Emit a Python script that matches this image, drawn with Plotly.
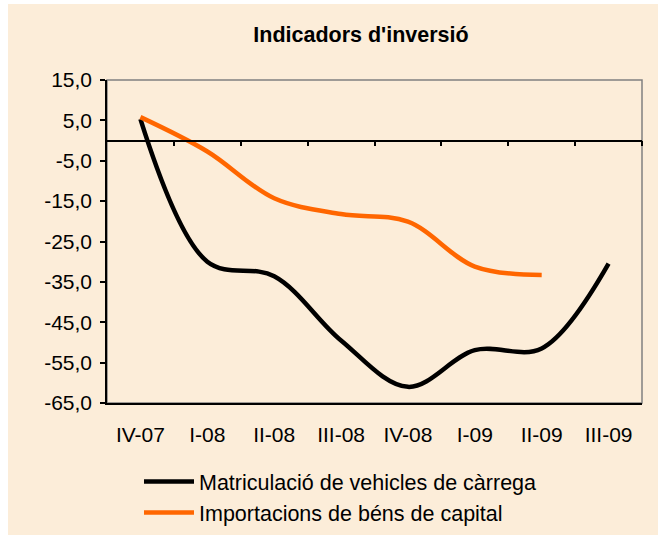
import plotly.graph_objects as go

categories = ["IV-07", "I-08", "II-08", "III-08", "IV-08", "I-09", "II-09", "III-09"]
matriculacio = [5.3, -30.0, -33.6, -49.5, -61.0, -51.9, -51.5, -30.5]
importacions = [5.8, -2.7, -14.3, -18.2, -20.1, -31.2, -33.3, None]
name_m = "Matriculació de vehicles de càrrega"
name_i = "Importacions de béns de capital"
title = "Indicadors d'inversió"
y_ticks = [15, 5, -5, -15, -25, -35, -45, -55, -65]
y_ticktext = [f"{v:.1f}".replace(".", ",") for v in y_ticks]

BG = "#FCEDD9"
FONT = "Liberation Sans, Arial, sans-serif"
xs = list(range(len(categories)))

fig = go.Figure()
fig.add_trace(go.Scatter(x=xs, y=matriculacio, name=name_m, mode="lines",
                         line=dict(color="#000000", width=4.5, shape="spline", smoothing=1),
                         legendgroup="a"))
fig.add_trace(go.Scatter(x=xs, y=importacions, name=name_i, mode="lines",
                         line=dict(color="#FF6600", width=4.5, shape="spline", smoothing=1),
                         legendgroup="b"))
# invisible trace for the zero-line axis
fig.add_trace(go.Scatter(x=[xs[0]], y=[0], xaxis="x2", yaxis="y", mode="markers",
                         marker=dict(opacity=0), showlegend=False, hoverinfo="skip"))

W, H = 658, 535
L, R, T, B = 107, 16, 80, 132
pw = W - L - R
ph = H - T - B

shapes = [
    dict(type="rect", xref="paper", yref="paper", layer="below",
         x0=(8 - L) / pw, x1=(W - L) / pw + 0.05, y0=-(B + 30) / ph, y1=1 + (T - 4) / ph,
         fillcolor=BG, line=dict(width=0)),
    dict(type="rect", xref="paper", yref="paper", layer="below",
         x0=0, x1=1, y0=0, y1=1, line=dict(color="#808080", width=1.5), fillcolor="rgba(0,0,0,0)"),
]

fig.update_layout(
    width=W, height=H,
    margin=dict(l=L, r=R, t=T, b=B, autoexpand=False),
    paper_bgcolor="white",
    plot_bgcolor="rgba(0,0,0,0)",
    font=dict(family=FONT, color="#000000", size=21),
    title=dict(text="<b>" + title + "</b>", x=361 / W, xanchor="center",
               y=1 - 34 / H, yanchor="middle", font=dict(size=21.5, family=FONT)),
    showlegend=True,
    legend=dict(x=(139 - L) / pw, xanchor="left", y=-(461 - T - ph) / ph, yanchor="top",
                bgcolor="rgba(0,0,0,0)", font=dict(size=21.5, family=FONT),
                itemwidth=50, traceorder="grouped", tracegroupgap=0),
    shapes=shapes,
    xaxis=dict(range=[-0.5, len(categories) - 0.5], tickvals=xs, ticktext=categories,
               showgrid=False, zeroline=False, showline=True, linecolor="#000000", linewidth=1.5,
               ticks="", ticklabelstandoff=12, tickfont=dict(size=21)),
    xaxis2=dict(range=[-0.5, len(categories) - 0.5], overlaying="x", anchor="free",
                position=(0 - (-65)) / 80, side="bottom",
                tickvals=[k + 0.5 for k in xs], showticklabels=False,
                ticks="outside", ticklen=5, tickcolor="#000000", tickwidth=1.5,
                showline=True, linecolor="#000000", linewidth=1.5, showgrid=False, zeroline=False),
    yaxis=dict(range=[-65, 15], tickvals=y_ticks, ticktext=y_ticktext,
               showgrid=False, zeroline=False, showline=True, linecolor="#000000", linewidth=1.5,
               ticks="outside", ticklen=5, tickcolor="#000000", tickwidth=1.5,
               ticklabelstandoff=4, tickfont=dict(size=21)),
)

fig.write_html("out.html", config={"displayModeBar": False},
               post_script="document.body.style.margin='0px';document.body.style.background='" + BG + "';document.body.style.overflow='hidden';")
